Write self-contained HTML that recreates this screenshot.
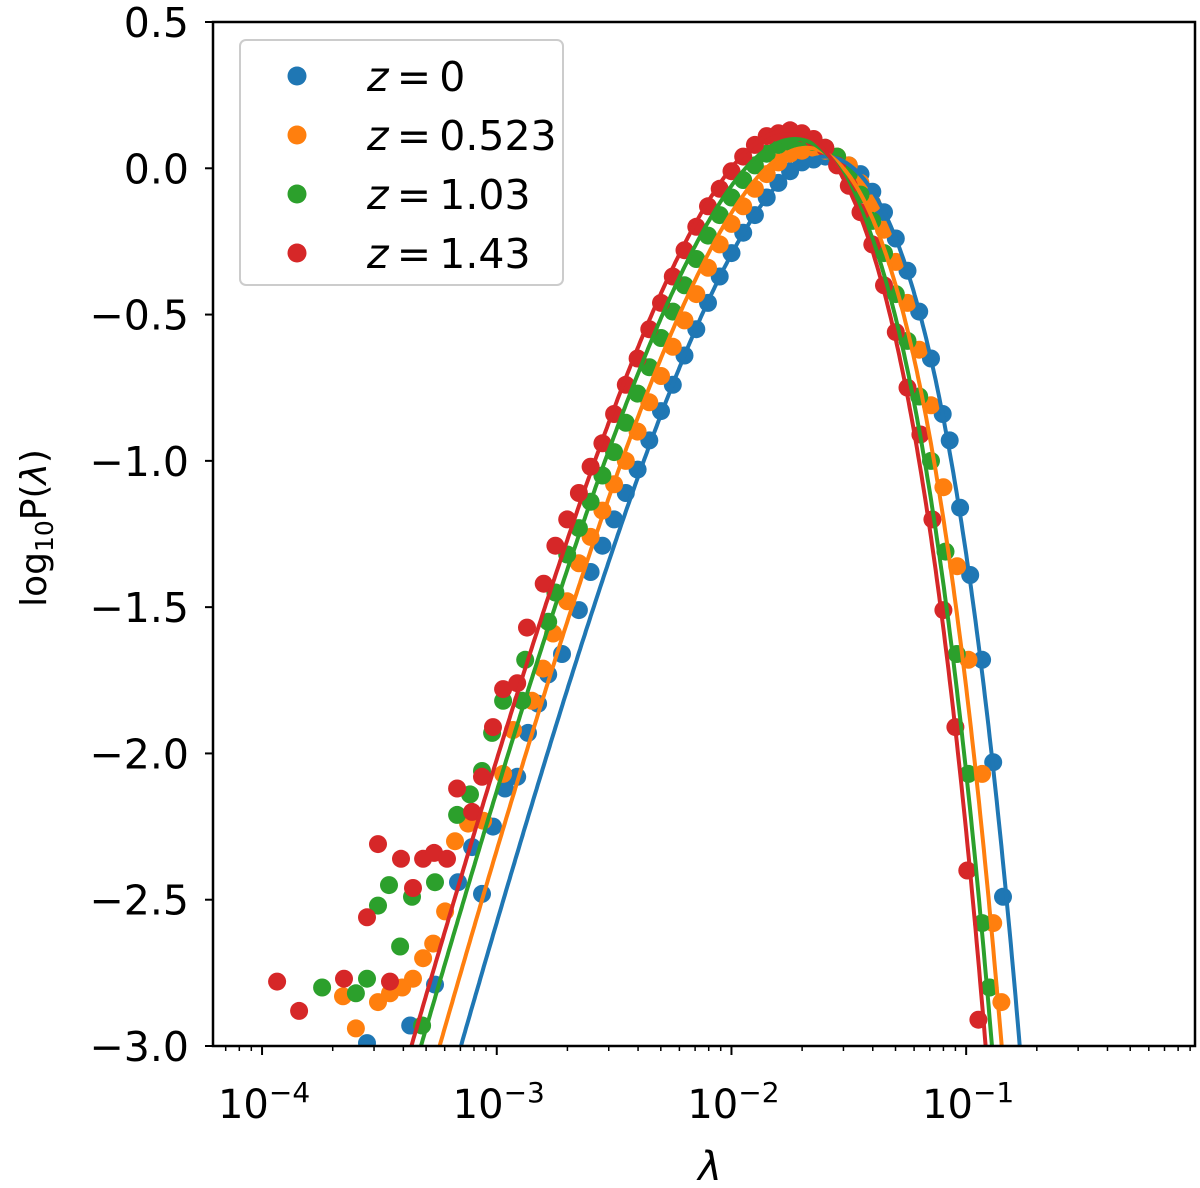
<!DOCTYPE html>
<html><head><meta charset="utf-8"><style>
html,body{margin:0;padding:0;background:#fff;}
svg{display:block;font-family:"DejaVu Sans","Liberation Sans",sans-serif;}
</style></head><body>
<svg id="chart" width="1200" height="1188" viewBox="0 0 1200 1188" xmlns="http://www.w3.org/2000/svg">
<defs><clipPath id="plotclip"><rect x="213" y="22" width="982" height="1024"/></clipPath></defs>
<rect x="0" y="0" width="1200" height="1188" fill="#fff"/>
<g id="marks" clip-path="url(#plotclip)"></g>
<rect x="213" y="22" width="982" height="1024" fill="none" stroke="#000" stroke-width="2.5"/>
<g id="axes"></g>
<text x="710" y="1180" font-size="40" font-style="italic" text-anchor="middle">λ</text>
<text transform="translate(46,528) rotate(-90)" font-size="36" text-anchor="middle">log<tspan font-size="25" dy="7">10</tspan><tspan dy="-7">P(</tspan><tspan font-style="italic">λ</tspan>)</text>
<g>
<rect x="240" y="40" width="323" height="245" rx="6" fill="#fff" fill-opacity="0.8" stroke="#ccc" stroke-width="2"/>
<g id="legend"></g>
</g>
</svg>
<script>
const colors = ["#1f77b4","#ff7f0e","#2ca02c","#d62728"];
const zValues = ["0","0.523","1.03","1.43"];
// fit parameters for each redshift
const fitLogPeak = [-1.60,-1.68,-1.73,-1.76];
const fitPeakValue = [0.04,0.07,0.10,0.13];
const fitAlpha = [4,4,4,4];
const fitSlope = [3,3,2.95,2.95];
// measured points (log10 lambda, log10 P)
const blueX = [-3.553,-3.369,-3.263,-3.165,-3.105,-3.063,-3.016,-2.965,-2.913,-2.867,-2.824,-2.781,-2.722,-2.65,-2.60,-2.55,-2.50,-2.45,-2.40,-2.35,-2.30,-2.25,-2.20,-2.15,-2.10,-2.05,-2.00,-1.95,-1.90,-1.85,-1.80,-1.75,-1.70,-1.65,-1.60,-1.55,-1.50,-1.45,-1.40,-1.35,-1.30,-1.25,-1.20,-1.15,-1.10,-1.07,-1.026,-0.983,-0.932,-0.885,-0.843];
const blueY = [-2.99,-2.93,-2.79,-2.44,-2.32,-2.48,-2.25,-2.12,-2.08,-1.93,-1.83,-1.73,-1.66,-1.51,-1.38,-1.29,-1.20,-1.11,-1.03,-0.93,-0.83,-0.74,-0.64,-0.55,-0.46,-0.37,-0.29,-0.22,-0.16,-0.10,-0.05,-0.01,0.02,0.03,0.04,0.03,0.01,-0.02,-0.08,-0.15,-0.24,-0.35,-0.49,-0.65,-0.84,-0.93,-1.16,-1.39,-1.68,-2.03,-2.49];
const orangeX = [-3.655,-3.600,-3.506,-3.455,-3.403,-3.357,-3.314,-3.271,-3.220,-3.178,-3.122,-3.058,-2.973,-2.931,-2.850,-2.803,-2.760,-2.70,-2.65,-2.60,-2.55,-2.50,-2.45,-2.40,-2.35,-2.30,-2.25,-2.20,-2.15,-2.10,-2.05,-2.00,-1.95,-1.90,-1.85,-1.80,-1.75,-1.70,-1.65,-1.60,-1.55,-1.50,-1.45,-1.40,-1.35,-1.30,-1.25,-1.20,-1.15,-1.097,-1.038,-0.99,-0.932,-0.885,-0.85];
const orangeY = [-2.83,-2.94,-2.85,-2.82,-2.80,-2.77,-2.70,-2.65,-2.54,-2.30,-2.24,-2.23,-2.07,-1.92,-1.82,-1.71,-1.59,-1.48,-1.35,-1.26,-1.17,-1.08,-1.00,-0.90,-0.80,-0.71,-0.61,-0.52,-0.43,-0.34,-0.26,-0.19,-0.13,-0.07,-0.02,0.02,0.05,0.06,0.07,0.06,0.04,0.01,-0.05,-0.12,-0.21,-0.32,-0.46,-0.62,-0.81,-1.09,-1.36,-1.68,-2.07,-2.58,-2.85];
const greenX = [-3.744,-3.600,-3.553,-3.506,-3.459,-3.412,-3.361,-3.318,-3.263,-3.169,-3.114,-3.063,-3.020,-2.973,-2.892,-2.879,-2.781,-2.75,-2.70,-2.65,-2.60,-2.55,-2.50,-2.45,-2.40,-2.35,-2.30,-2.25,-2.20,-2.15,-2.10,-2.05,-2.00,-1.95,-1.90,-1.85,-1.80,-1.75,-1.70,-1.65,-1.60,-1.55,-1.50,-1.45,-1.40,-1.35,-1.30,-1.25,-1.20,-1.15,-1.088,-1.04,-0.99,-0.932,-0.90];
const greenY = [-2.80,-2.82,-2.77,-2.52,-2.45,-2.66,-2.49,-2.93,-2.44,-2.21,-2.14,-2.06,-1.93,-1.82,-1.82,-1.68,-1.55,-1.45,-1.32,-1.23,-1.14,-1.05,-0.97,-0.87,-0.77,-0.68,-0.58,-0.49,-0.40,-0.31,-0.23,-0.16,-0.10,-0.04,0.01,0.05,0.08,0.09,0.10,0.09,0.07,0.04,-0.02,-0.09,-0.18,-0.29,-0.43,-0.59,-0.78,-1.00,-1.31,-1.66,-2.07,-2.58,-2.80];
const redX = [-3.936,-3.842,-3.651,-3.553,-3.506,-3.455,-3.408,-3.357,-3.314,-3.267,-3.212,-3.169,-3.105,-3.063,-3.016,-2.973,-2.913,-2.871,-2.80,-2.75,-2.70,-2.65,-2.60,-2.55,-2.50,-2.45,-2.40,-2.35,-2.30,-2.25,-2.20,-2.15,-2.10,-2.05,-2.00,-1.95,-1.90,-1.85,-1.80,-1.75,-1.70,-1.65,-1.60,-1.55,-1.50,-1.45,-1.40,-1.35,-1.30,-1.25,-1.195,-1.144,-1.097,-1.046,-0.995,-0.948];
const redY = [-2.78,-2.88,-2.77,-2.56,-2.31,-2.78,-2.36,-2.46,-2.36,-2.34,-2.36,-2.12,-2.20,-2.08,-1.91,-1.78,-1.76,-1.57,-1.42,-1.29,-1.20,-1.11,-1.02,-0.94,-0.84,-0.74,-0.65,-0.55,-0.46,-0.37,-0.28,-0.20,-0.13,-0.07,-0.01,0.04,0.08,0.11,0.12,0.13,0.12,0.10,0.07,0.01,-0.06,-0.15,-0.26,-0.40,-0.56,-0.75,-0.91,-1.20,-1.51,-1.91,-2.40,-2.91];
const yTicks = [0.5,0.0,-0.5,-1.0,-1.5,-2.0,-2.5,-3.0];
const yTickLabels = ["0.5","0.0","−0.5","−1.0","−1.5","−2.0","−2.5","−3.0"];
const xMajor = [-4,-3,-2,-1];
const xMajorExp = ["−4","−3","−2","−1"];

const NS="http://www.w3.org/2000/svg";
const X0=213,X1=1195,Y0=22,Y1=1046;
const xMin=-4.209,xMax=-0.025,yMin=-3,yMax=0.5;
function sx(l){return X0+(l-xMin)/(xMax-xMin)*(X1-X0);}
function sy(v){return Y1-(v-yMin)/(yMax-yMin)*(Y1-Y0);}
function mk(tag,attrs,parent){const e=document.createElementNS(NS,tag);for(const k in attrs)e.setAttribute(k,attrs[k]);parent.appendChild(e);return e;}
const marks=document.getElementById('marks'),axes=document.getElementById('axes'),legend=document.getElementById('legend');

const allX=[blueX,orangeX,greenX,redX],allY=[blueY,orangeY,greenY,redY];
const keys=["z0","z0523","z103","z143"];
for(let s=0;s<4;s++){
  const g=mk('g',{},marks);
  
  
  for(let i=0;i<allX[s].length;i++){
    const c=mk('circle',{cx:sx(allX[s][i]).toFixed(1),cy:sy(allY[s][i]).toFixed(1),r:9,fill:colors[s]},g);
    
    
  }
}
function fitVal(s,l){const u=l-fitLogPeak[s],a=fitAlpha[s];return fitPeakValue[s]+(fitSlope[s]/3)*(3*u-a*Math.LOG10E*(Math.pow(10,3*u/a)-1));}
for(let s=0;s<4;s++){
  let d='';
  for(let l=-4.2;l<=-0.02;l+=0.005){const v=Math.max(fitVal(s,l),-3.3);d+=(d?'L':'M')+sx(l).toFixed(1)+','+sy(v).toFixed(1);}
  const p=mk('path',{d:d,fill:'none',stroke:colors[s],'stroke-width':4},marks);
  
  
}
for(let i=0;i<yTicks.length;i++){
  const y=sy(yTicks[i]);
  const t=mk('line',{x1:X0-8,x2:X0,y1:y,y2:y,stroke:'#000','stroke-width':2},axes);
  
  
  const tx=mk('text',{x:189,y:y+15,'font-size':41,'text-anchor':'end'},axes);
  tx.textContent=yTickLabels[i];
  
  
}
for(let dec=-5;dec<=0;dec++){
  for(let m=1;m<10;m++){
    const l=dec+Math.log10(m);
    if(l<xMin||l>xMax)continue;
    const x=sx(l);
    const t=mk('line',{x1:x,x2:x,y1:Y1,y2:Y1+(m===1?9:5),stroke:'#000','stroke-width':m===1?2:1.5},axes);
    
    
  }
}
for(let i=0;i<xMajor.length;i++){
  const x=sx(xMajor[i]);
  const tx=mk('text',{x:x+2,y:1118,'font-size':40,'text-anchor':'middle'},axes);
  tx.textContent='10';
  const sp=document.createElementNS(NS,'tspan');sp.setAttribute('font-size','28');sp.setAttribute('dy','-16');sp.textContent=xMajorExp[i];tx.appendChild(sp);
  
  
}
for(let s=0;s<4;s++){
  const y=76+s*59;
  const c=mk('circle',{cx:297,cy:y,r:9.5,fill:colors[s]},legend);
  
  
  const t=mk('text',{x:367,y:y+15,'font-size':41},legend);
  const zi=document.createElementNS(NS,'tspan');zi.setAttribute('font-style','italic');zi.textContent='z';t.appendChild(zi);
  t.appendChild(document.createTextNode('\u2009=\u2009'+zValues[s]));
  
  
}
</script>
</body></html>
